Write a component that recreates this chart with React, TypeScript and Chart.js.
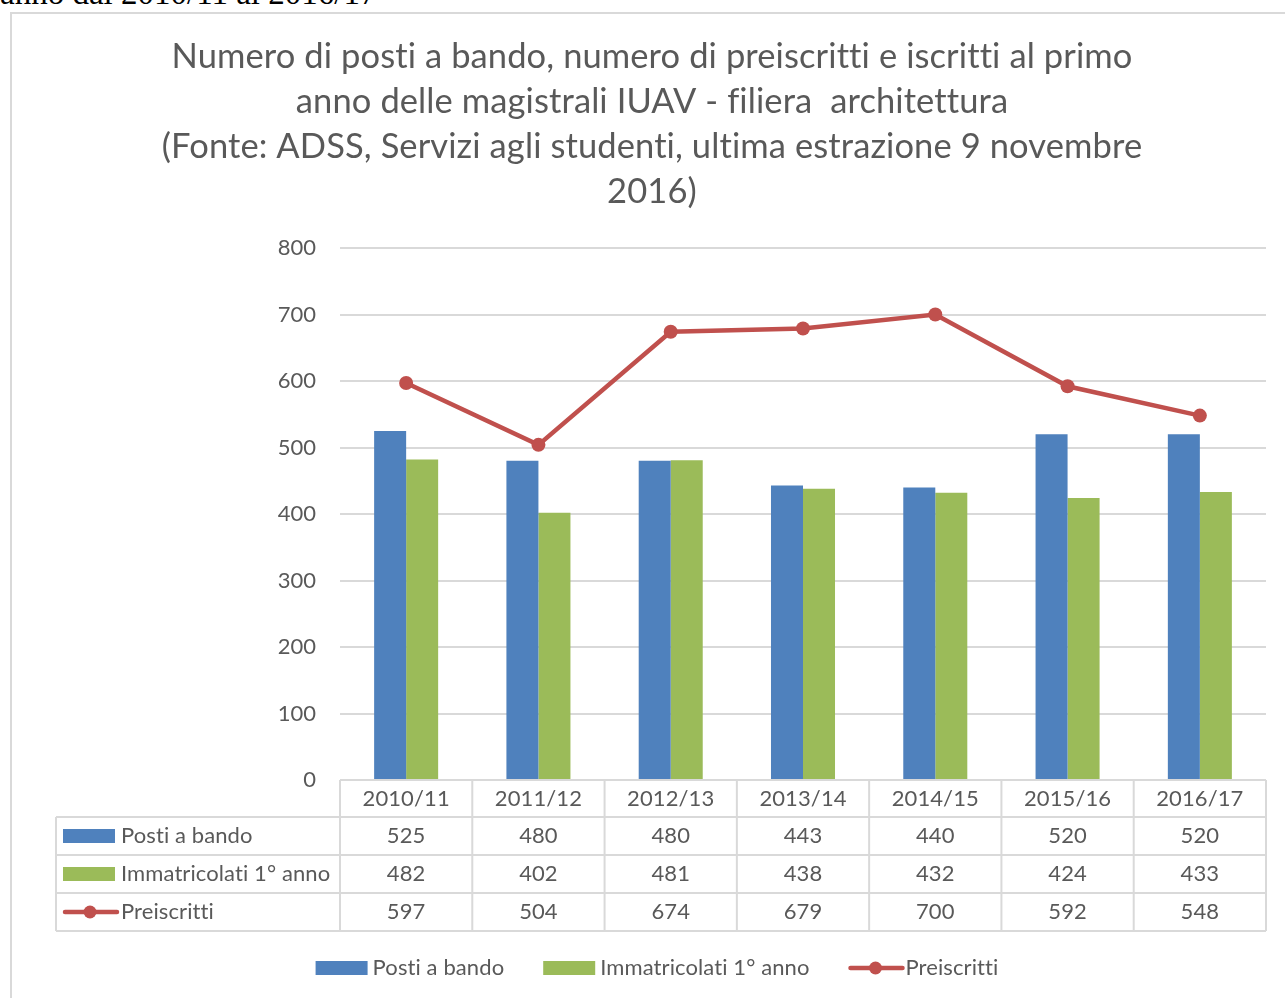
import { useEffect, useRef } from "react";
import { Chart, registerables } from "chart.js";

Chart.register(...registerables);

const categories = ["2010/11", "2011/12", "2012/13", "2013/14", "2014/15", "2015/16", "2016/17"];
const postiABando = [525, 480, 480, 443, 440, 520, 520];
const immatricolati = [482, 402, 481, 438, 432, 424, 433];
const preiscritti = [597, 504, 674, 679, 700, 592, 548];
const seriesLabels = ["Posti a bando", "Immatricolati 1° anno", "Preiscritti"];
const titleLines = [
  "Numero di posti a bando, numero di preiscritti e iscritti al primo",
  "anno delle magistrali IUAV - filiera  architettura",
  "(Fonte: ADSS, Servizi agli studenti, ultima estrazione 9 novembre",
  "2016)",
];
const pageCaption = "anno dal 2010/11 al 2016/17";

const BLUE = "#4F81BD";
const GREEN = "#9BBB59";
const RED = "#C0504D";
const TEXT = "#595959";
const GRID = "#D9D9D9";
const FONT = "Lato";

function drawSwatch(ctx: CanvasRenderingContext2D, kind: string, color: string, x: number, y: number) {
  if (kind === "line") {
    ctx.strokeStyle = color;
    ctx.lineWidth = 4.5;
    ctx.lineCap = "round";
    ctx.beginPath();
    ctx.moveTo(x + 2, y);
    ctx.lineTo(x + 54, y);
    ctx.stroke();
    ctx.fillStyle = color;
    ctx.beginPath();
    ctx.arc(x + 27, y, 6.5, 0, Math.PI * 2);
    ctx.fill();
  } else {
    ctx.fillStyle = color;
    ctx.fillRect(x, y - 7, 52, 14);
  }
}

const tablePlugin = {
  id: "tablePlugin",
  afterDraw(chart: any) {
    const ctx: any = chart.ctx;
    const area = chart.chartArea;
    const xs = chart.scales.x;
    const n = categories.length;
    const step = area.width / n;
    const ds = chart.data.datasets;
    const rows = [
      { label: ds[1].label, kind: "bar", color: ds[1].backgroundColor, data: ds[1].data },
      { label: ds[2].label, kind: "bar", color: ds[2].backgroundColor, data: ds[2].data },
      { label: ds[0].label, kind: "line", color: ds[0].borderColor, data: ds[0].data },
    ];
    ctx.save();
    ctx.letterSpacing = "0.1px";

    // title
    ctx.fillStyle = TEXT;
    ctx.font = `34.5px ${FONT}`;
    ctx.textAlign = "center";
    ctx.textBaseline = "middle";
    titleLines.forEach((t, i) => ctx.fillText(t, 652, 57 + i * 45));

    // table grid
    const top = area.bottom;
    const headerBottom = top + 37;
    const rowH = 38;
    const bottom = headerBottom + rowH * rows.length;
    const leftX = 56;
    ctx.strokeStyle = GRID;
    ctx.lineWidth = 2;
    ctx.beginPath();
    ctx.moveTo(area.left, top);
    ctx.lineTo(area.right, top);
    for (let r = 0; r <= rows.length; r++) {
      const yy = headerBottom + r * rowH;
      ctx.moveTo(leftX, yy);
      ctx.lineTo(area.right, yy);
    }
    for (let i = 0; i <= n; i++) {
      const xx = area.left + i * step;
      ctx.moveTo(xx, top);
      ctx.lineTo(xx, bottom);
    }
    ctx.moveTo(leftX, headerBottom);
    ctx.lineTo(leftX, bottom);
    ctx.stroke();

    // header labels
    ctx.font = `22px ${FONT}`;
    ctx.fillStyle = TEXT;
    ctx.textAlign = "center";
    ctx.textBaseline = "middle";
    categories.forEach((c, i) => ctx.fillText(c, xs.getPixelForValue(i), top + 19));

    // rows
    rows.forEach((row, r) => {
      const cy = headerBottom + r * rowH + rowH / 2;
      row.data.forEach((v: number, i: number) => {
        ctx.fillStyle = TEXT;
        ctx.textAlign = "center";
        ctx.fillText(String(v), xs.getPixelForValue(i), cy);
      });
      drawSwatch(ctx, row.kind, row.color, 63, cy);
      ctx.fillStyle = TEXT;
      ctx.textAlign = "left";
      ctx.fillText(row.label, 121, cy);
    });

    // bottom legend
    const ly = 968;
    const gap = 39;
    const widths = rows.map((r) => 57 + ctx.measureText(r.label).width);
    const total = widths.reduce((a: number, b: number) => a + b, 0) + gap * (rows.length - 1);
    let lx = 657 - total / 2;
    rows.forEach((row, i) => {
      drawSwatch(ctx, row.kind, row.color, lx, ly);
      ctx.fillStyle = TEXT;
      ctx.textAlign = "left";
      ctx.fillText(row.label, lx + 57, ly);
      lx += widths[i] + gap;
    });
    ctx.restore();
  },
};

export default function App() {
  const ref = useRef<HTMLCanvasElement>(null);
  useEffect(() => {
    const chart = new Chart(ref.current as HTMLCanvasElement, {
      type: "bar",
      data: {
        labels: categories,
        datasets: [
          {
            type: "line",
            label: seriesLabels[2],
            data: preiscritti,
            borderColor: RED,
            backgroundColor: RED,
            borderWidth: 4.5,
            pointRadius: 7,
            pointBackgroundColor: RED,
            pointBorderColor: RED,
            pointBorderWidth: 0,
            order: 0,
          } as any,
          {
            type: "bar",
            label: seriesLabels[0],
            data: postiABando,
            backgroundColor: BLUE,
            categoryPercentage: 0.484,
            barPercentage: 1,
            order: 1,
          },
          {
            type: "bar",
            label: seriesLabels[1],
            data: immatricolati,
            backgroundColor: GREEN,
            categoryPercentage: 0.484,
            barPercentage: 1,
            order: 1,
          },
        ],
      },
      options: {
        responsive: false,
        animation: false,
        devicePixelRatio: 1,
        layout: { padding: { top: 248, right: 19, bottom: 218, left: 0 } },
        plugins: {
          legend: { display: false },
          tooltip: { enabled: false },
          title: { display: false },
        },
        scales: {
          x: { display: false },
          y: {
            min: 0,
            max: 800,
            ticks: { stepSize: 100, color: TEXT, font: { family: FONT, size: 22 }, padding: 24 },
            grid: { color: GRID, lineWidth: 2, drawTicks: false },
            border: { display: false },
            afterFit: (scale: any) => {
              scale.width = 340;
            },
          },
        },
      },
      plugins: [tablePlugin],
    });
    return () => chart.destroy();
  }, []);

  return (
    <div style={{ position: "absolute", left: 0, top: 0, width: 1285, height: 998, overflow: "hidden", background: "#fff" }}>
      <div
        style={{
          position: "absolute",
          left: 0,
          top: -23.5,
          font: '33px "Liberation Serif"',
          lineHeight: "33px",
          whiteSpace: "nowrap",
          color: "#000",
        }}
      >
        {pageCaption}
      </div>
      <div
        style={{
          position: "absolute",
          left: 10,
          top: 12,
          width: 1300,
          height: 1000,
          border: "2px solid #D9D9D9",
          boxSizing: "border-box",
        }}
      />
      <canvas ref={ref} width={1285} height={998} style={{ position: "absolute", left: 0, top: 0 }} />
    </div>
  );
}
